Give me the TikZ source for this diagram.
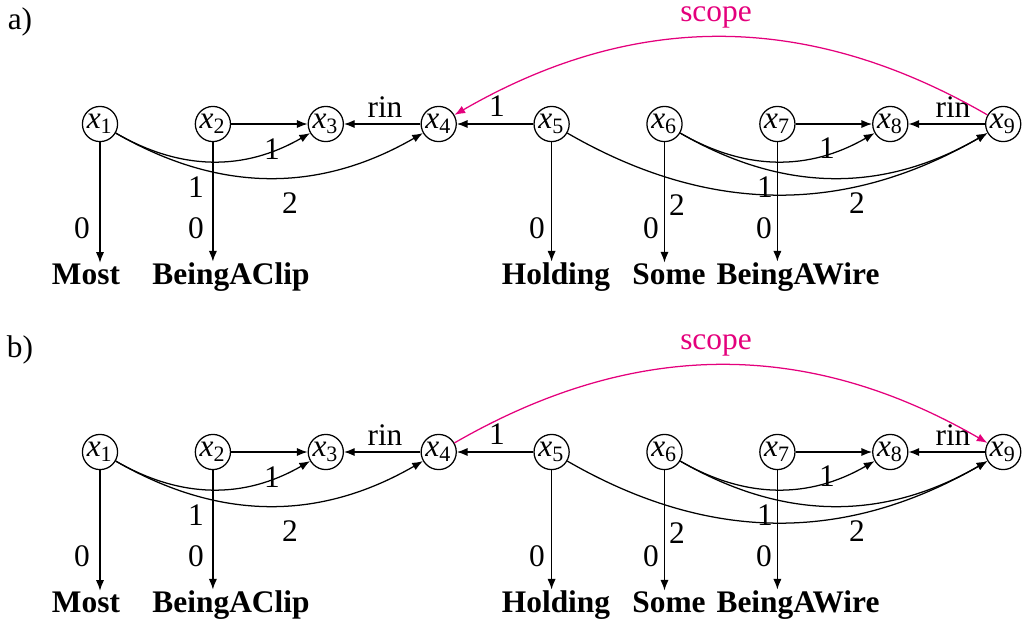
\documentclass[tikz,border=0pt]{standalone}
\usepackage{fontspec}
\setmainfont{Liberation Serif}
\usetikzlibrary{positioning,arrows.meta}
\definecolor{scopepink}{RGB}{228,0,124}
\newcommand{\varx}[1]{{\itshape x}\textsubscript{#1}}

\begin{document}
\begin{tikzpicture}[
		x=0.3185pt, y=0.3185pt,
		>={Latex[length=3.4pt,width=2.6pt]},
		var/.style = {draw, circle, inner sep=0.2pt, minimum size=11.2pt},
		pred/.style = {font=\bfseries, anchor=base, inner sep=0pt},
		lbl/.style = {inner sep=0pt},
		arg/.style = {->, out=-30, in=-150},
		scopearc/.style = {->, draw=scopepink}
		]
		\useasboundingbox (0,0) rectangle (1026,-621);
		\foreach \p/\yo in {a/0,b/328}{
			\node[lbl] (\p tag) at (20,{-22-\yo}) {\p)};
			\foreach \i in {1,...,9}
				\node[var] (\p\i) at ({100+(\i-1)*112.9},{-124-\yo}) {\varx{\i}};
			% predicates
			\node[pred] (\p most) at (86,{-284-\yo}) {Most};
			\node[pred] (\p clip) at (231,{-284-\yo}) {BeingAClip};
			\node[pred] (\p hold) at (556,{-284-\yo}) {Holding};
			\node[pred] (\p some) at (669,{-284-\yo}) {Some};
			\node[pred] (\p wire) at (798,{-284-\yo}) {BeingAWire};
			\draw[->] (\p1) -- (\p1 |- \p most.north);
			\draw[->] (\p2) -- (\p2 |- \p clip.north);
			\draw[->] (\p5) -- (\p5 |- \p hold.north);
			\draw[->] (\p6) -- (\p6 |- \p some.north);
			\draw[->] (\p7) -- (\p7 |- \p wire.north);
			% straight edges
			\draw[->] (\p2) -- (\p3);
			\draw[->] (\p4) -- (\p3);
			\draw[->] (\p5) -- (\p4);
			\draw[->] (\p7) -- (\p8);
			\draw[->] (\p9) -- (\p8);
			% curved edges
			\draw[arg] (\p1) to (\p3);
			\draw[arg] (\p1) to (\p4);
			\draw[arg] (\p6) to (\p8);
			\draw[arg] (\p6) to (\p9);
			\draw[arg] (\p5) to (\p9);
			% edge labels
			\node[lbl] (\p rinl) at (385,{-107-\yo}) {rin};
			\node[lbl] (\p rinr) at (953,{-107-\yo}) {rin};
			\node[lbl] (\p l54) at (497,{-106-\yo}) {1};
			\node[lbl] (\p l13) at (272,{-149-\yo}) {1};
			\node[lbl] (\p l14) at (290,{-203-\yo}) {2};
			\node[lbl] (\p l2) at (196,{-187-\yo}) {1};
			\node[lbl] (\p l68) at (827,{-148-\yo}) {1};
			\node[lbl] (\p l69) at (765,{-187-\yo}) {1};
			\node[lbl] (\p l59) at (857,{-203-\yo}) {2};
			\node[lbl] (\p l6) at (677,{-205-\yo}) {2};
			\node[lbl] (\p z1) at (82,{-228-\yo}) {0};
			\node[lbl] (\p z2) at (196,{-228-\yo}) {0};
			\node[lbl] (\p z5) at (537,{-228-\yo}) {0};
			\node[lbl] (\p z6) at (651,{-228-\yo}) {0};
			\node[lbl] (\p z7) at (764,{-228-\yo}) {0};
			\node[lbl, text=scopepink] (\p scope) at (716,{-17-\yo}) {scope};
		}
		\draw[scopearc] (a9) to[bend right=30] (a4);
		\draw[scopearc] (b4) to[bend left=30] (b9);
	\end{tikzpicture}
\end{document}
